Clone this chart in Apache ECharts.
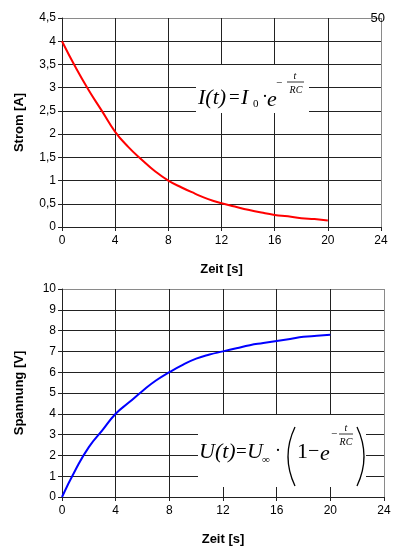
<!DOCTYPE html>
<html>
<head>
<meta charset="utf-8">
<script src="https://cdn.jsdelivr.net/npm/echarts@6/dist/echarts.min.js"></script>
<style>
  html, body { margin: 0; padding: 0; background: #fff; }
  #main { width: 396px; height: 552px; }
</style>
</head>
<body>
<div id="main"></div>
<script>
// Zeit in s
var zeit = [0, 1, 2, 3, 4, 5, 6, 7, 8, 9, 10, 11, 12, 13, 14, 15, 16, 17, 18, 19, 20];
// Strom in A
var strom = [4.0, 3.45, 2.95, 2.5, 2.05, 1.72, 1.45, 1.2, 1.0, 0.85, 0.72, 0.6, 0.51, 0.44, 0.37, 0.31, 0.26, 0.23, 0.19, 0.17, 0.14];
// Spannung in V
var spannung = [0, 1.3, 2.4, 3.2, 4.0, 4.55, 5.1, 5.6, 6.0, 6.35, 6.65, 6.85, 7.0, 7.15, 7.3, 7.4, 7.5, 7.6, 7.7, 7.75, 7.8];

function pairs(ys) {
    var out = [];
    for (var i = 0; i < zeit.length; i++) out.push([zeit[i], ys[i]]);
    return out;
}

var sans = 'Liberation Sans';
var serif = 'Liberation Serif';
var gridCol = '#222';
var frameCol = '#8a8a8a';

// dunkle Gitterlinien, die letzte (Rahmen) grau
function lineColors(n) {
    var c = [];
    for (var i = 0; i < n - 1; i++) c.push(gridCol);
    c.push(frameCol);
    return c;
}

function xAxisFor(idx) {
    return {
        type: 'value', gridIndex: idx, min: 0, max: 24, interval: 4,
        name: 'Zeit [s]', nameLocation: 'middle', nameGap: 36,
        nameTextStyle: { fontFamily: sans, fontWeight: 'bold', fontSize: 13, color: '#000' },
        axisLine: { show: true, lineStyle: { color: gridCol, width: 1 } },
        axisTick: { show: true, length: 4, lineStyle: { color: gridCol } },
        axisLabel: { fontFamily: sans, fontSize: 12, color: '#000', margin: 8 },
        splitLine: { show: true, lineStyle: { color: lineColors(7), width: 1 } }
    };
}

function yAxisFor(idx, max, step, name, nLines) {
    return {
        type: 'value', gridIndex: idx, min: 0, max: max, interval: step,
        name: name, nameLocation: 'middle', nameGap: 36, nameRotate: 90,
        nameTextStyle: { fontFamily: sans, fontWeight: 'bold', fontSize: 13, color: '#000' },
        axisLine: { show: true, lineStyle: { color: gridCol, width: 1 } },
        axisTick: { show: true, length: 4, lineStyle: { color: gridCol } },
        axisLabel: {
            fontFamily: sans, fontSize: 12, color: '#000', margin: 6,
            formatter: function (v) { return String(v).replace('.', ','); }
        },
        splitLine: { show: true, lineStyle: { color: lineColors(nLines), width: 1 } }
    };
}

// Textstück der Formel, y = optische Mitte
function txt(x, y, s, size, italic, align) {
    return {
        type: 'text', x: x, y: y, z: 20,
        style: {
            text: s, fontFamily: serif, fontSize: size,
            fontStyle: italic ? 'italic' : 'normal',
            fill: '#000', align: align || 'left', verticalAlign: 'middle'
        }
    };
}

function bar(x1, x2, y) {
    return { type: 'line', z: 20, shape: { x1: x1, y1: y, x2: x2, y2: y }, style: { stroke: '#000', lineWidth: 0.8 } };
}

function paren(xEnd, xMid, y1, y2) {
    return {
        type: 'bezierCurve', z: 20,
        shape: { x1: xEnd, y1: y1, x2: xEnd, y2: y2, cpx1: xMid, cpy1: (y1 + y2) / 2 },
        style: { stroke: '#000', lineWidth: 1.3, fill: null }
    };
}

var option = {
    backgroundColor: '#fff',
    animation: false,
    grid: [
        { left: 62, right: 15, top: 18, height: 209 },
        { left: 62, right: 12, top: 289, height: 208 }
    ],
    xAxis: [xAxisFor(0), xAxisFor(1)],
    yAxis: [yAxisFor(0, 4.5, 0.5, 'Strom [A]', 10), yAxisFor(1, 10, 1, 'Spannung [V]', 11)],
    series: [
        {
            type: 'line', xAxisIndex: 0, yAxisIndex: 0, data: pairs(strom),
            smooth: true, showSymbol: false,
            lineStyle: { color: '#ff0000', width: 2 }
        },
        {
            type: 'line', xAxisIndex: 1, yAxisIndex: 1, data: pairs(spannung),
            smooth: true, showSymbol: false,
            lineStyle: { color: '#0000ff', width: 2 }
        }
    ],
    graphic: [
        { type: 'text', x: 385, y: 18, z: 20,
          style: { text: '50', fontFamily: sans, fontSize: 13, fill: '#000', align: 'right', verticalAlign: 'middle' } },
        // Formel oben: I(t) = I0 · e^(-t/RC)
        { type: 'rect', z: 10, shape: { x: 196, y: 65, width: 113, height: 48 }, style: { fill: '#fff' } },
        txt(198, 98, 'I(t)', 22, true),
        txt(229, 98, '=', 19, false),
        txt(241, 98, 'I', 22, true),
        txt(253, 104, '0', 11, false),
        txt(262, 97, '·', 18, false),
        txt(267, 100, 'e', 22, true),
        txt(276, 83, '−', 11, false),
        txt(295, 76, 't', 10, true, 'center'),
        bar(287, 304, 82),
        txt(296, 90, 'RC', 10, true, 'center'),
        // Formel unten: U(t) = U∞ · (1 - e^(-t/RC))
        { type: 'rect', z: 10, shape: { x: 198, y: 415, width: 168, height: 72 }, style: { fill: '#fff' } },
        txt(199, 452, 'U(t)', 22, true),
        txt(236, 452, '=', 19, false),
        txt(247, 452, 'U', 22, true),
        txt(262, 460, '∞', 11, false),
        txt(275, 451, '·', 18, false),
        paren(295, 281, 427, 486),
        txt(297, 452, '1', 22, false),
        txt(308, 452, '−', 20, false),
        txt(320, 454, 'e', 22, true),
        txt(331, 434, '−', 11, false),
        txt(346, 428, 't', 10, true, 'center'),
        bar(339, 353, 434),
        txt(346, 442, 'RC', 10, true, 'center'),
        paren(357, 371, 427, 486)
    ]
};

var chart = echarts.init(document.getElementById('main'));
chart.setOption(option);
</script>
</body>
</html>
